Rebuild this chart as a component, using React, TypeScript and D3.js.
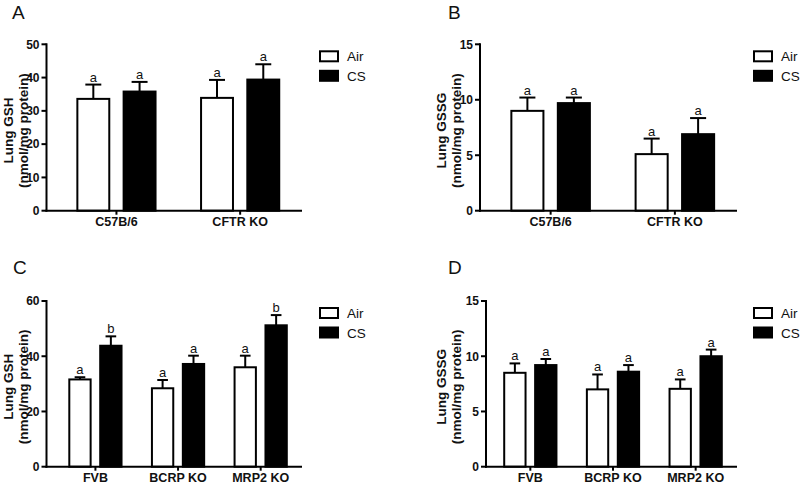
import React from "react";
import * as d3 from "d3";

const groups = ["Air", "CS"];

// Panel A
const aCategories = ["C57B/6", "CFTR KO"];
const aAir = [33.6, 33.9];
const aAirErr = [4.3, 5.4];
const aCS = [35.8, 39.4];
const aCSErr = [2.9, 4.6];
const aAirLetters = ["a", "a"];
const aCSLetters = ["a", "a"];
const aTicks = [0, 10, 20, 30, 40, 50];

// Panel B
const bCategories = ["C57B/6", "CFTR KO"];
const bAir = [9.0, 5.1];
const bAirErr = [1.2, 1.4];
const bCS = [9.7, 6.9];
const bCSErr = [0.5, 1.45];
const bAirLetters = ["a", "a"];
const bCSLetters = ["a", "a"];
const bTicks = [0, 5, 10, 15];

// Panel C
const cCategories = ["FVB", "BCRP KO", "MRP2 KO"];
const cAir = [31.6, 28.4, 36.0];
const cAirErr = [0.8, 3.0, 4.2];
const cCS = [43.8, 37.2, 51.2];
const cCSErr = [3.4, 3.0, 3.7];
const cAirLetters = ["a", "a", "a"];
const cCSLetters = ["b", "a", "b"];
const cTicks = [0, 20, 40, 60];

// Panel D
const dCategories = ["FVB", "BCRP KO", "MRP2 KO"];
const dAir = [8.5, 7.0, 7.05];
const dAirErr = [0.85, 1.35, 0.85];
const dCS = [9.2, 8.6, 10.0];
const dCSErr = [0.55, 0.6, 0.6];
const dAirLetters = ["a", "a", "a"];
const dCSLetters = ["a", "a", "a"];
const dTicks = [0, 5, 10, 15];

const FONT = "'Liberation Sans', Arial, Helvetica, sans-serif";

type PanelProps = {
  letter: string;
  letterX: number;
  letterY: number;
  yLabel: string;
  labelX1: number;
  labelX2: number;
  axisX: number;
  xEnd: number;
  bandStart: number;
  top: number;
  bottom: number;
  yMax: number;
  ticks: number[];
  categories: string[];
  air: number[];
  airErr: number[];
  cs: number[];
  csErr: number[];
  airLetters: string[];
  csLetters: string[];
  legendX: number;
};

function Panel(p: PanelProps) {
  const y = d3.scaleLinear().domain([0, p.yMax]).range([p.bottom, p.top]);
  const x = d3.scalePoint<string>().domain(p.categories).range([p.bandStart, p.xEnd]).padding(0.5);
  const step = x.step();
  const gw = step * 0.632;
  const inner = d3.scaleBand<string>().domain(groups).range([-gw / 2, gw / 2]).paddingInner(0.31);
  const bw = inner.bandwidth();
  const series = [
    { key: "Air", vals: p.air, errs: p.airErr, letters: p.airLetters, fill: "#fff" },
    { key: "CS", vals: p.cs, errs: p.csErr, letters: p.csLetters, fill: "#000" },
  ];
  const midY = (p.top + p.bottom) / 2 + 3;
  return (
    <g fontFamily={FONT}>
      <text x={p.letterX} y={p.letterY} fontSize={19} fill="#111">{p.letter}</text>
      {/* y label */}
      <text transform={`translate(${p.labelX1},${midY}) rotate(-90)`} textAnchor="middle" fontSize={13.5} fontWeight="bold" fill="#111">{p.yLabel}</text>
      <text transform={`translate(${p.labelX2},${midY}) rotate(-90)`} textAnchor="middle" fontSize={13.5} fontWeight="bold" fill="#111">(nmol/mg protein)</text>
      {/* bars */}
      {series.map((s) =>
        p.categories.map((c, i) => {
          const bx = (x(c) as number) + (inner(s.key) as number);
          const cx = bx + bw / 2;
          const yt = y(s.vals[i]);
          const ye = y(s.vals[i] + s.errs[i]);
          return (
            <g key={s.key + c}>
              <line x1={cx} x2={cx} y1={yt} y2={ye} stroke="#000" strokeWidth={2} />
              <line x1={cx - bw / 4} x2={cx + bw / 4} y1={ye} y2={ye} stroke="#000" strokeWidth={2} />
              <rect x={bx} y={yt} width={bw} height={p.bottom - yt} fill={s.fill} stroke="#000" strokeWidth={2} />
              <text x={cx} y={ye - 3} textAnchor="middle" fontSize={13} fill="#111">{s.letters[i]}</text>
            </g>
          );
        })
      )}
      {/* y axis */}
      <line x1={p.axisX} x2={p.axisX} y1={p.top - 1} y2={p.bottom + 1} stroke="#000" strokeWidth={2} />
      {p.ticks.map((t) => (
        <g key={t}>
          <line x1={p.axisX - 5} x2={p.axisX} y1={y(t)} y2={y(t)} stroke="#000" strokeWidth={2} />
          <text x={p.axisX - 7} y={y(t)} dy="0.36em" textAnchor="end" fontSize={12} fontWeight="bold" fill="#111">{t}</text>
        </g>
      ))}
      {/* x axis */}
      <line x1={p.axisX - 1} x2={p.xEnd} y1={p.bottom} y2={p.bottom} stroke="#000" strokeWidth={2} />
      {p.categories.map((c) => (
        <g key={c}>
          <line x1={x(c)} x2={x(c)} y1={p.bottom} y2={p.bottom + 4} stroke="#000" strokeWidth={2} />
          <text x={x(c)} y={p.bottom + 15} textAnchor="middle" fontSize={12.5} fontWeight="bold" fill="#111">{c}</text>
        </g>
      ))}
      {/* legend */}
      {series.map((s, i) => (
        <g key={"lg" + s.key}>
          <rect x={p.legendX} y={p.top + 7 + i * 19.5} width={18} height={10} fill={s.fill} stroke="#000" strokeWidth={2} />
          <text x={p.legendX + 27} y={p.top + 17 + i * 19.5} fontSize={13.5} fill="#111">{s.key}</text>
        </g>
      ))}
    </g>
  );
}

export default function App() {
  return (
    <svg width={800} height={484} style={{ display: "block", position: "absolute", left: 0, top: 0, background: "#fff" }}>
      <rect width={800} height={484} fill="#fff" />
      <Panel letter="A" letterX={12} letterY={18.5} yLabel="Lung GSH" labelX1={13} labelX2={27.5}
        axisX={46.5} xEnd={302} bandStart={54.6} top={44.3} bottom={210.7} yMax={50} ticks={aTicks}
        categories={aCategories} air={aAir} airErr={aAirErr} cs={aCS} csErr={aCSErr}
        airLetters={aAirLetters} csLetters={aCSLetters} legendX={320} />
      <Panel letter="B" letterX={448} letterY={18.5} yLabel="Lung GSSG" labelX1={446} labelX2={461}
        axisX={480} xEnd={737} bandStart={488.5} top={44.3} bottom={210.7} yMax={15} ticks={bTicks}
        categories={bCategories} air={bAir} airErr={bAirErr} cs={bCS} csErr={bCSErr}
        airLetters={bAirLetters} csLetters={bCSLetters} legendX={754} />
      <Panel letter="C" letterX={13} letterY={273.5} yLabel="Lung GSH" labelX1={13} labelX2={27.5}
        axisX={46.5} xEnd={302} bandStart={54.1} top={301} bottom={466.7} yMax={60} ticks={cTicks}
        categories={cCategories} air={cAir} airErr={cAirErr} cs={cCS} csErr={cCSErr}
        airLetters={cAirLetters} csLetters={cCSLetters} legendX={320} />
      <Panel letter="D" letterX={448} letterY={273.5} yLabel="Lung GSSG" labelX1={446} labelX2={461}
        axisX={486} xEnd={737} bandStart={489} top={301} bottom={466.7} yMax={15} ticks={dTicks}
        categories={dCategories} air={dAir} airErr={dAirErr} cs={dCS} csErr={dCSErr}
        airLetters={dAirLetters} csLetters={dCSLetters} legendX={754} />
    </svg>
  );
}
